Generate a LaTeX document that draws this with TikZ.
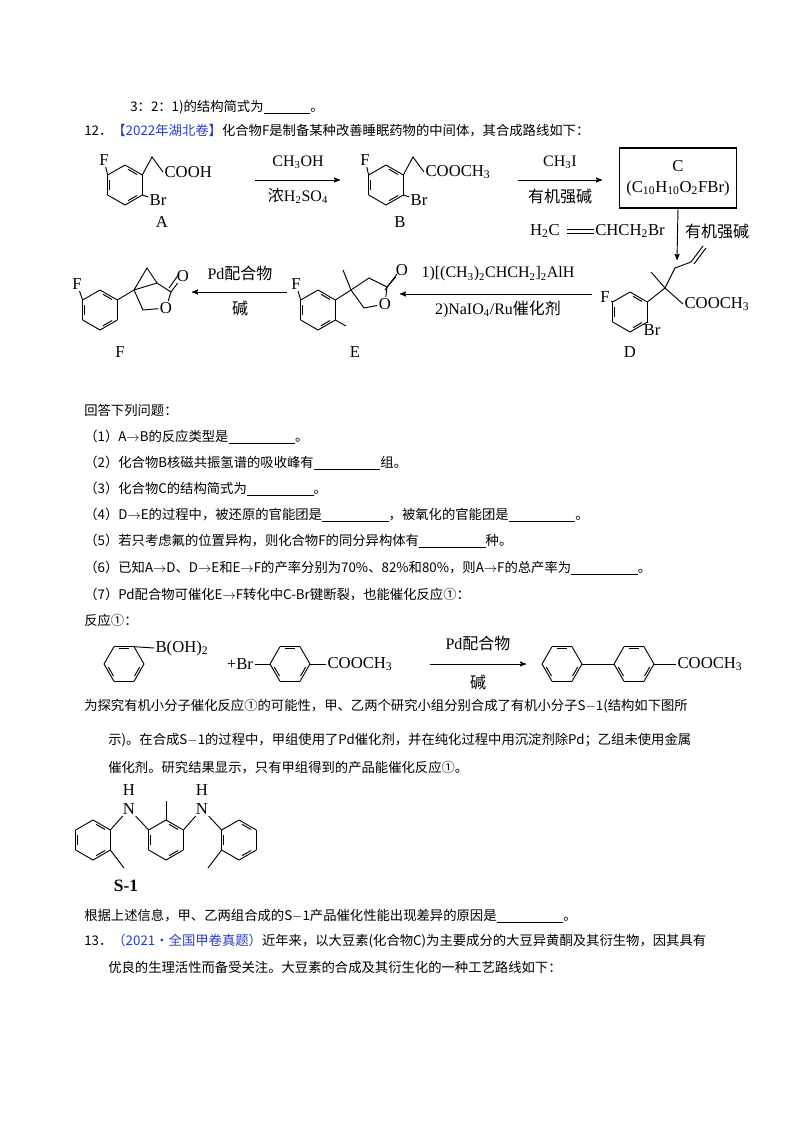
\documentclass[tikz,border=0pt]{standalone}
\usepackage{fontspec}
\setmainfont{Noto Sans CJK SC}
\newfontfamily\lat{Liberation Serif}
\usetikzlibrary{arrows,calc}
\definecolor{qblue}{RGB}{40,60,200}
\tikzset{
  txt/.style = {anchor=west, inner sep=0pt, font=\fontsize{10}{12}\selectfont},% text line
  chem/.style = {inner sep=1pt, font=\lat\fontsize{12.5}{14}\selectfont},% atom label
  lab/.style = {inner sep=0pt, font=\lat\fontsize{12.5}{14}\selectfont},% compound letter
  cond/.style = {inner sep=0pt, font=\fontsize{12}{14}\selectfont},% reaction condition
  bond/.style = {line width=0.7pt},
  rxn/.style = {->, >=stealth', line width=0.7pt}
}
\def\rr{20}
% benzene ring: centre x, centre y, angle offset
\newcommand\ring[3]{%
  \begin{scope}[shift={(#1,#2)}]
    \foreach \k in {0,...,5}
      \draw[bond] (#3+60*\k:\rr) -- (#3+60*\k+60:\rr);
    \foreach \k in {0,2,4}
      \draw[bond] (#3+60*\k+11:\rr-4) -- (#3+60*\k+49:\rr-4);
  \end{scope}}
\newcommand\blank{\underline{\hspace{5em}}}
\begin{document}
\begin{tikzpicture}[x=0.75pt,y=-0.75pt]
\useasboundingbox (0,0) rectangle (800,1132);

\node[txt] at (130,107) {3：2：1)的结构简式为\underline{\hspace{3.5em}}。};
\node[txt] at (84,131) {12．{\color{qblue}【2022年湖北卷】}化合物F是制备某种改善睡眠药物的中间体，其合成路线如下：};

% A
\ring{125}{185}{30}
\node[chem] (fA) at (104,160) {F};
\node[chem,anchor=west] (cooh) at (163,172) {COOH};
\node[chem] (brA) at (158,200) {Br};
\draw[bond] (125,185)+(210:\rr) -- (fA);
\draw[bond] (125,185)+(330:\rr) -- (152,157) -- (cooh.west);
\draw[bond] (125,185)+(30:\rr) -- (brA);
\node[lab] (A) at (162,222) {A};

\node (a1s) at (255,180) {}; \node (a1e) at (340,180) {};
\draw[rxn] (a1s.center) -- (a1e.center);
\node[cond] at (298,162) {\lat CH\textsubscript{3}OH};
\node[cond] at (298,196) {浓\lat H\textsubscript{2}SO\textsubscript{4}};

% B
\ring{386}{185}{30}
\node[chem] (fB) at (365,160) {F};
\node[chem,anchor=west] (coo) at (424,172) {COOCH\textsubscript{3}};
\node[chem] (brB) at (419,200) {Br};
\draw[bond] (386,185)+(210:\rr) -- (fB);
\draw[bond] (386,185)+(330:\rr) -- (413,157) -- (coo.west);
\draw[bond] (386,185)+(30:\rr) -- (brB);
\node[lab] (B) at (400,222) {B};

\node (a2s) at (518,180) {}; \node (a2e) at (602,180) {};
\draw[rxn] (a2s.center) -- (a2e.center);
\node[cond] at (560,162) {\lat CH\textsubscript{3}I};
\node[cond] at (560,196) {有机强碱};

% C box
\node[draw, line width=0.8pt, minimum width=117*0.75pt, minimum height=60*0.75pt,
  align=center, font=\lat\fontsize{12.5}{16}\selectfont] (C) at (678,178)
  {C\\(C\textsubscript{10}H\textsubscript{10}O\textsubscript{2}FBr)};
\coordinate (a3e) at (677,260);
\draw[rxn] (C.south) -- (a3e);
\node[chem] (h2c) at (545,231) {H\textsubscript{2}C};
\node[chem] (chbr) at (630,231) {CHCH\textsubscript{2}Br};
\draw[bond] ([yshift=1.5pt]h2c.east) ++(4pt,0) -- ([yshift=1.5pt]chbr.west);
\draw[bond] ([yshift=-1.5pt]h2c.east) ++(4pt,0) -- ([yshift=-1.5pt]chbr.west);
\node[cond] at (717,231) {有机强碱};

% D
\ring{630}{312}{30}
\node[chem] (fD) at (605,297) {F};
\node[chem,anchor=west] (cooD) at (683,304) {COOCH\textsubscript{3}};
\node[chem] (brD) at (652,330) {Br};
\coordinate (qD) at (665,288);
\draw[bond] (630,312)+(210:\rr) -- (fD);
\draw[bond] (630,312)+(330:\rr) -- (qD) -- (cooD.west);
\draw[bond] (qD) -- (651,272);
\draw[bond] (qD) -- (675,268) -- (691,262) -- (703,246);
\draw[bond] (694,264) -- (706,248);
\draw[bond] (630,312)+(30:\rr) -- (brD);
\node[lab] (D) at (630,352) {D};

\node (a4s) at (592,294) {}; \node (a4e) at (400,294) {};
\draw[rxn] (a4s.center) -- (a4e.center);
\node[cond] at (498,274) {\lat 1)[(CH\textsubscript{3})\textsubscript{2}CHCH\textsubscript{2}]\textsubscript{2}AlH};
\node[cond] at (498,309) {\lat 2)NaIO\textsubscript{4}/Ru\normalfont 催化剂};

% E
\ring{318}{310}{30}
\node[chem] (fE) at (296,284) {F};
\coordinate (qE) at (351,290);
\node[chem] (oE) at (385,304) {O};
\node[chem] (ocE) at (402,270) {O};
\draw[bond] (318,310)+(210:\rr) -- (fE);
\draw[bond] (318,310)+(330:\rr) -- (qE);
\draw[bond] (318,310)+(30:\rr) -- (346,326);
\draw[bond] (qE) -- (343,270);
\draw[bond] (qE) -- (369,278) -- (387,287) -- (oE) -- (364,308) -- (qE);
\draw[bond] (387,287) -- (ocE);
\draw[bond] (385,290) -- (397,274);
\node[lab] (E) at (355,352) {E};

\node (a5s) at (287,292) {}; \node (a5e) at (192,292) {};
\draw[rxn] (a5s.center) -- (a5e.center);
\node[cond] at (240,273) {\lat Pd\normalfont 配合物};
\node[cond] at (240,308) {碱};

% F
\ring{100}{310}{30}
\node[chem] (fF) at (77,284) {F};
\coordinate (qF) at (134,290);
\coordinate (caF) at (157,283);
\node[chem] (oF) at (166,308) {O};
\node[chem] (ocF) at (183,276) {O};
\draw[bond] (100,310)+(210:\rr) -- (fF);
\draw[bond] (100,310)+(330:\rr) -- (qF);
\draw[bond] (qF) -- (147,268) -- (caF) -- (qF);
\draw[bond] (caF) -- (171,292) -- (oF) -- (143,310) -- (qF);
\draw[bond] (171,292) -- (ocF);
\draw[bond] (169,288) -- (179,274);
\node[lab] (F) at (120,352) {F};

% questions
\node[txt] at (84,410) {回答下列问题：};
\node[txt] at (84,437) {（1）A$\rightarrow$B的反应类型是\blank。};
\node[txt] at (84,463) {（2）化合物B核磁共振氢谱的吸收峰有\blank 组。};
\node[txt] at (84,489) {（3）化合物C的结构简式为\blank。};
\node[txt] at (84,515) {（4）D$\rightarrow$E的过程中，被还原的官能团是\blank，被氧化的官能团是\blank。};
\node[txt] at (84,541) {（5）若只考虑氟的位置异构，则化合物F的同分异构体有\blank 种。};
\node[txt] at (84,568) {（6）已知A$\rightarrow$D、D$\rightarrow$E和E$\rightarrow$F的产率分别为70\%、82\%和80\%，则A$\rightarrow$F的总产率为\blank。};
\node[txt] at (84,594) {（7）Pd配合物可催化E$\rightarrow$F转化中C-Br键断裂，也能催化反应①：};
\node[txt] at (84,620) {反应①：};

% reaction 1
\ring{124}{664}{0}
\node[chem,anchor=west] (boh) at (154,648) {B(OH)\textsubscript{2}};
\draw[bond] (124,664)+(300:\rr) -- (boh.west);
\node[chem] (pbr) at (240,664) {+Br};
\ring{290}{664}{0}
\node[chem,anchor=west] (cooR) at (326,664) {COOCH\textsubscript{3}};
\draw[bond] (pbr.east) -- (270,664);
\draw[bond] (310,664) -- (cooR.west);
\node (a6s) at (430,664) {}; \node (a6e) at (526,664) {};
\draw[rxn] (a6s.center) -- (a6e.center);
\node[cond] at (478,643) {\lat Pd\normalfont 配合物};
\node[cond] at (478,682) {碱};
\ring{562}{664}{0}
\ring{634}{664}{0}
\draw[bond] (582,664) -- (614,664);
\node[chem,anchor=west] (cooP) at (676,664) {COOCH\textsubscript{3}};
\draw[bond] (654,664) -- (cooP.west);

\node[txt] at (84,706) {为探究有机小分子催化反应①的可能性，甲、乙两个研究小组分别合成了有机小分子S$-$1(结构如下图所};
\node[txt] at (108,740) {示)。在合成S$-$1的过程中，甲组使用了Pd催化剂，并在纯化过程中用沉淀剂除Pd；乙组未使用金属};
\node[txt] at (108,768) {催化剂。研究结果显示，只有甲组得到的产品能催化反应①。};

% S-1
\ring{93}{840}{30}
\ring{166}{840}{30}
\ring{239}{840}{30}
\node[chem] (n1) at (129,809) {N};
\node[chem] (n2) at (202,809) {N};
\node[chem] (h1) at (129,790) {H};
\node[chem] (h2) at (202,790) {H};
\draw[bond] (93,840)+(330:\rr) -- (n1);
\draw[bond] (166,840)+(210:\rr) -- (n1);
\draw[bond] (166,840)+(330:\rr) -- (n2);
\draw[bond] (239,840)+(210:\rr) -- (n2);
\draw[bond] (93,840)+(30:\rr) -- (124,868);
\draw[bond] (166,840)+(270:\rr) -- (166,801);
\draw[bond] (239,840)+(150:\rr) -- (208,868);
\node[lab, font=\lat\bfseries\fontsize{13}{15}\selectfont] (S1) at (126,886) {S-1};

\node[txt] at (84,916) {根据上述信息，甲、乙两组合成的S$-$1产品催化性能出现差异的原因是\blank。};
\node[txt] at (84,941) {13．{\color{qblue}（2021·全国甲卷真题）}近年来，以大豆素(化合物C)为主要成分的大豆异黄酮及其衍生物，因其具有};
\node[txt] at (108,967) {优良的生理活性而备受关注。大豆素的合成及其衍生化的一种工艺路线如下：};
\end{tikzpicture}
\end{document}
